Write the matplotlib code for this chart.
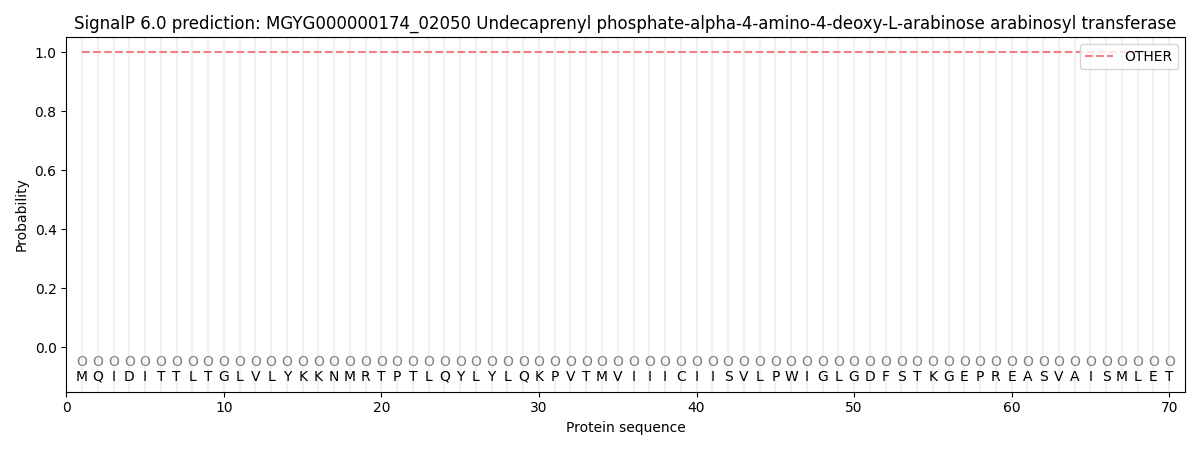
import matplotlib
matplotlib.use("Agg")
import matplotlib.pyplot as plt
import numpy as np

title = "SignalP 6.0 prediction: MGYG000000174_02050 Undecaprenyl phosphate-alpha-4-amino-4-deoxy-L-arabinose arabinosyl transferase"
sequence = list("MQIDITTLTGLVLYKKNMRTPTLQYLYLQKPVTMVIIICIISVLPWIGLGDFSTKGEPREASVAISMLET")
labels = ["O"] * len(sequence)
prob_other = [1.0] * len(sequence)

positions = np.arange(1, len(sequence) + 1)

fig, ax = plt.subplots(figsize=(12, 4.5), dpi=100)

for p in positions:
    ax.axvline(p, color="#f0f0f0", linewidth=1.5, zorder=0)

ax.plot(positions, prob_other, linestyle="--", color="#f08080", linewidth=1.5, label="OTHER")

for p, aa, lab in zip(positions, sequence, labels):
    ax.text(p, -0.05, lab, ha="center", va="center", fontsize=10, color="grey")
    ax.text(p, -0.1, aa, ha="center", va="center", fontsize=10, color="black")

ax.set_xlim(0, len(sequence) + 1)
ax.set_ylim(-0.15, 1.05)
ax.set_xlabel("Protein sequence")
ax.set_ylabel("Probability")
ax.set_title(title)
ax.legend(loc="upper right")

fig.tight_layout()
fig.savefig("out.png")
